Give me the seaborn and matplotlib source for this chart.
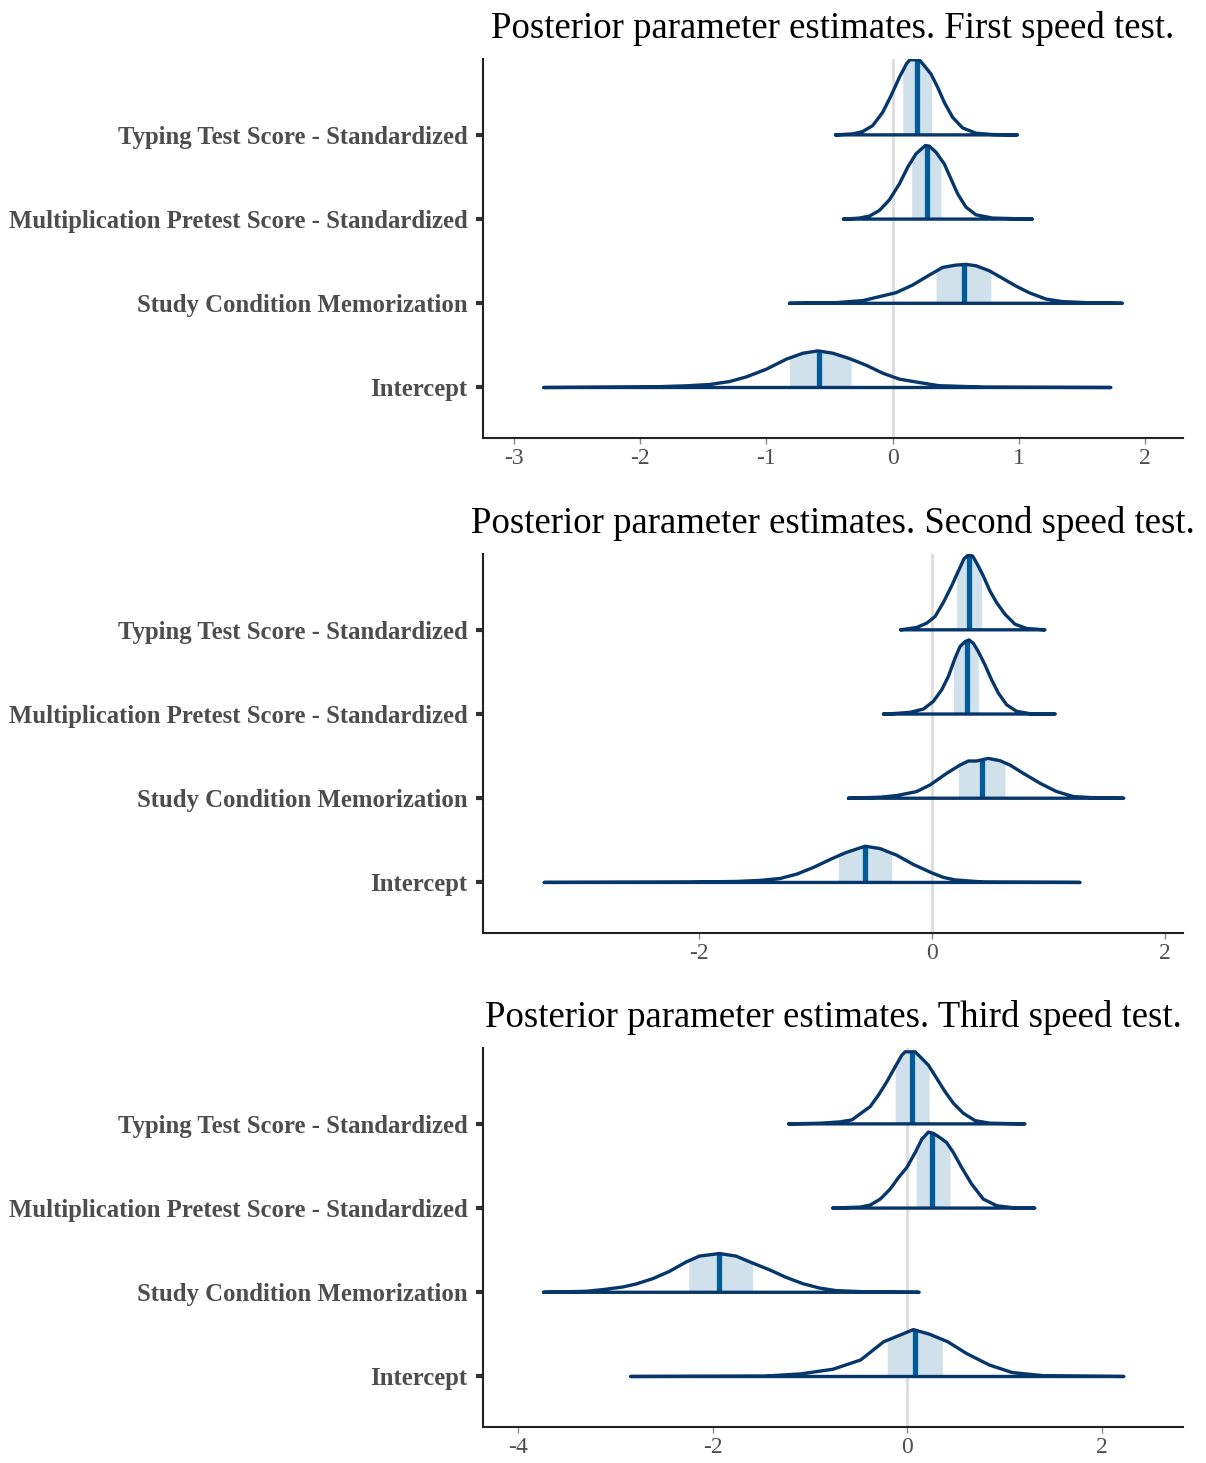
import numpy as np
import pandas as pd
import seaborn as sns
import matplotlib.pyplot as plt

params = [
    'Intercept',
    'Study Condition Memorization',
    'Multiplication Pretest Score - Standardized',
    'Typing Test Score - Standardized',
]
titles = [
    'Posterior parameter estimates. First speed test.',
    'Posterior parameter estimates. Second speed test.',
    'Posterior parameter estimates. Third speed test.',
]

# density outlines (x, scaled height), one per parameter
first_intercept_x = [-2.762, -1.897, -1.634, -1.449, -1.291, -1.159, -1.001, -0.843, -0.711, -0.593, -0.474, -0.343, -0.211, -0.079, 0.053, 0.211, 0.364, 0.727, 1.727]
first_intercept_h = [0, 0.008, 0.02, 0.036, 0.071, 0.126, 0.217, 0.336, 0.407, 0.435, 0.407, 0.344, 0.265, 0.17, 0.099, 0.059, 0.022, 0.004, 0]
first_study_x = [-0.817, -0.448, -0.237, -0.105, 0.026, 0.158, 0.29, 0.395, 0.501, 0.58, 0.659, 0.764, 0.87, 0.975, 1.08, 1.212, 1.344, 1.528, 1.818]
first_study_h = [0, 0.008, 0.032, 0.079, 0.126, 0.217, 0.335, 0.426, 0.454, 0.462, 0.446, 0.387, 0.296, 0.205, 0.126, 0.051, 0.02, 0.008, 0]
first_mult_x = [-0.39, -0.264, -0.184, -0.105, -0.026, 0.053, 0.119, 0.184, 0.258, 0.29, 0.343, 0.408, 0.461, 0.514, 0.58, 0.659, 0.791, 1.107]
first_mult_h = [0, 0.012, 0.036, 0.103, 0.229, 0.419, 0.617, 0.775, 0.874, 0.866, 0.794, 0.656, 0.478, 0.3, 0.142, 0.051, 0.012, 0]
first_typing_x = [-0.453, -0.316, -0.237, -0.158, -0.079, -0.013, 0.053, 0.111, 0.137, 0.211, 0.25, 0.303, 0.356, 0.408, 0.474, 0.553, 0.659, 0.791, 0.988]
first_typing_h = [0, 0.012, 0.04, 0.111, 0.269, 0.466, 0.684, 0.85, 0.893, 0.89, 0.822, 0.723, 0.565, 0.387, 0.209, 0.083, 0.02, 0.004, 0]
first_lo = [-0.817, 0.343, 0.15, 0.079]
first_med = [-0.58, 0.561, 0.269, 0.19]
first_hi = [-0.329, 0.777, 0.382, 0.308]

second_intercept_x = [-3.324, -2.101, -1.672, -1.472, -1.3, -1.157, -1.015, -0.872, -0.743, -0.572, -0.443, -0.3, -0.157, 0.0, 0.1, 0.2, 0.45, 1.273]
second_intercept_h = [0, 0.004, 0.012, 0.024, 0.047, 0.099, 0.178, 0.272, 0.351, 0.43, 0.402, 0.323, 0.213, 0.114, 0.06, 0.03, 0.004, 0]
second_study_x = [-0.714, -0.443, -0.3, -0.129, -0.014, 0.129, 0.243, 0.314, 0.386, 0.486, 0.586, 0.672, 0.786, 0.929, 1.072, 1.215, 1.415, 1.648]
second_study_h = [0, 0.012, 0.032, 0.079, 0.158, 0.296, 0.394, 0.442, 0.442, 0.473, 0.446, 0.394, 0.296, 0.178, 0.079, 0.02, 0.004, 0]
second_mult_x = [-0.414, -0.357, -0.186, -0.071, 0.014, 0.086, 0.143, 0.2, 0.243, 0.286, 0.32, 0.357, 0.4, 0.457, 0.514, 0.572, 0.643, 0.729, 0.843, 1.06]
second_mult_h = [0, 0.002, 0.02, 0.059, 0.15, 0.288, 0.446, 0.663, 0.801, 0.86, 0.88, 0.84, 0.742, 0.584, 0.406, 0.248, 0.11, 0.032, 0.004, 0]
second_typing_x = [-0.266, -0.129, -0.043, 0.029, 0.1, 0.171, 0.229, 0.277, 0.314, 0.352, 0.392, 0.443, 0.5, 0.557, 0.629, 0.714, 0.815, 0.972]
second_typing_h = [0, 0.028, 0.079, 0.158, 0.324, 0.521, 0.698, 0.844, 0.888, 0.876, 0.777, 0.639, 0.461, 0.323, 0.185, 0.067, 0.016, 0]
second_lo = [-0.8, 0.229, 0.186, 0.214]
second_med = [-0.572, 0.429, 0.3, 0.32]
second_hi = [-0.343, 0.629, 0.4, 0.429]

third_intercept_x = [-2.841, -1.472, -1.095, -0.765, -0.481, -0.245, -0.08, 0.061, 0.227, 0.415, 0.604, 0.84, 1.076, 1.406, 2.223]
third_intercept_h = [0, 0.004, 0.031, 0.086, 0.196, 0.412, 0.49, 0.557, 0.502, 0.412, 0.275, 0.137, 0.047, 0.008, 0]
third_study_x = [-3.737, -3.299, -3.128, -2.923, -2.786, -2.615, -2.444, -2.274, -2.137, -1.932, -1.761, -1.59, -1.419, -1.248, -1.077, -0.906, -0.735, -0.393, 0.12]
third_study_h = [0, 0.012, 0.032, 0.063, 0.099, 0.162, 0.249, 0.359, 0.43, 0.46, 0.43, 0.347, 0.268, 0.178, 0.103, 0.051, 0.02, 0.004, 0]
third_mult_x = [-0.766, -0.485, -0.383, -0.28, -0.178, -0.092, -0.007, 0.079, 0.147, 0.215, 0.267, 0.335, 0.403, 0.472, 0.557, 0.66, 0.779, 0.916, 1.087, 1.309]
third_mult_h = [0, 0.012, 0.036, 0.106, 0.225, 0.363, 0.481, 0.659, 0.817, 0.903, 0.887, 0.836, 0.777, 0.659, 0.481, 0.284, 0.107, 0.028, 0.004, 0]
third_typing_x = [-1.221, -0.896, -0.691, -0.571, -0.468, -0.383, -0.297, -0.212, -0.126, -0.058, -0.024, 0.079, 0.13, 0.215, 0.301, 0.386, 0.472, 0.574, 0.694, 0.848, 1.207]
third_typing_h = [0, 0.008, 0.024, 0.047, 0.134, 0.205, 0.343, 0.5, 0.678, 0.816, 0.856, 0.856, 0.797, 0.698, 0.54, 0.383, 0.245, 0.126, 0.039, 0.008, 0]
third_lo = [-0.208, -2.246, 0.089, -0.126]
third_med = [0.076, -1.932, 0.256, 0.044]
third_hi = [0.359, -1.59, 0.438, 0.222]

x_ticks = [[-3, -2, -1, 0, 1, 2], [-2, 0, 2], [-4, -2, 0, 2]]
x_lims = [(-3.244, 2.298), (-3.85, 2.156), (-4.36, 2.83)]

panels = [
    ([(first_intercept_x, first_intercept_h), (first_study_x, first_study_h),
      (first_mult_x, first_mult_h), (first_typing_x, first_typing_h)],
     first_lo, first_med, first_hi),
    ([(second_intercept_x, second_intercept_h), (second_study_x, second_study_h),
      (second_mult_x, second_mult_h), (second_typing_x, second_typing_h)],
     second_lo, second_med, second_hi),
    ([(third_intercept_x, third_intercept_h), (third_study_x, third_study_h),
      (third_mult_x, third_mult_h), (third_typing_x, third_typing_h)],
     third_lo, third_med, third_hi),
]

sns.set_theme(style='ticks')
plt.rcParams['font.family'] = ['Liberation Serif', 'DejaVu Serif']

dark = '#06366a'
mid = '#005b96'
light = '#d1e1ec'

fig = plt.figure(figsize=(12.06, 14.63), dpi=100)
bottoms = [0.7006, 0.3623, 0.0246]

for k, (curves, lo, med, hi) in enumerate(panels):
    ax = fig.add_axes([0.4005, bottoms[k], 0.5804, 0.2590])
    ax.axvline(0, color='#dcdcdc', lw=2, zorder=0)
    for i, (xs, hs) in enumerate(curves):
        pos = i + 1
        xs = np.asarray(xs)
        ys = pos + np.asarray(hs)
        # interval shading
        xi = np.linspace(lo[i], hi[i], 60)
        ax.fill_between(xi, pos, pos + np.interp(xi, xs, hs), color=light, lw=0, zorder=1)
        ax.vlines(med[i], pos, pos + np.interp(med[i], xs, hs), color=mid, lw=3.8, zorder=2)
        df = pd.DataFrame({'x': np.r_[xs, xs[::-1][:1], xs[:1]],
                           'y': np.r_[ys, [pos, pos]]})
        sns.lineplot(data=df, x='x', y='y', sort=False, estimator=None,
                     color=dark, lw=2.4, ax=ax, zorder=3)
    ax.set_xlim(*x_lims[k])
    ax.set_ylim(0.4, 4.9)
    ax.set_xticks(x_ticks[k])
    ax.set_xticklabels([str(t) for t in x_ticks[k]])
    ax.set_yticks([1, 2, 3, 4])
    ax.set_yticklabels(params, fontweight='bold', fontsize=17.8, color='#4d4d4d')
    ax.tick_params(axis='y', length=5, width=3, color='#333333', pad=6)
    ax.tick_params(axis='x', length=4, width=1, color='#888888', labelsize=17,
                   labelcolor='#4d4d4d', pad=3)
    ax.set_xlabel('')
    ax.set_ylabel('')
    for s in ['top', 'right']:
        ax.spines[s].set_visible(False)
    for s in ['left', 'bottom']:
        ax.spines[s].set_color('#222222')
        ax.spines[s].set_linewidth(1.5)
    ax.set_title(titles[k], fontsize=26.5, pad=15, color='black')

fig.savefig('out.png', dpi=100)
